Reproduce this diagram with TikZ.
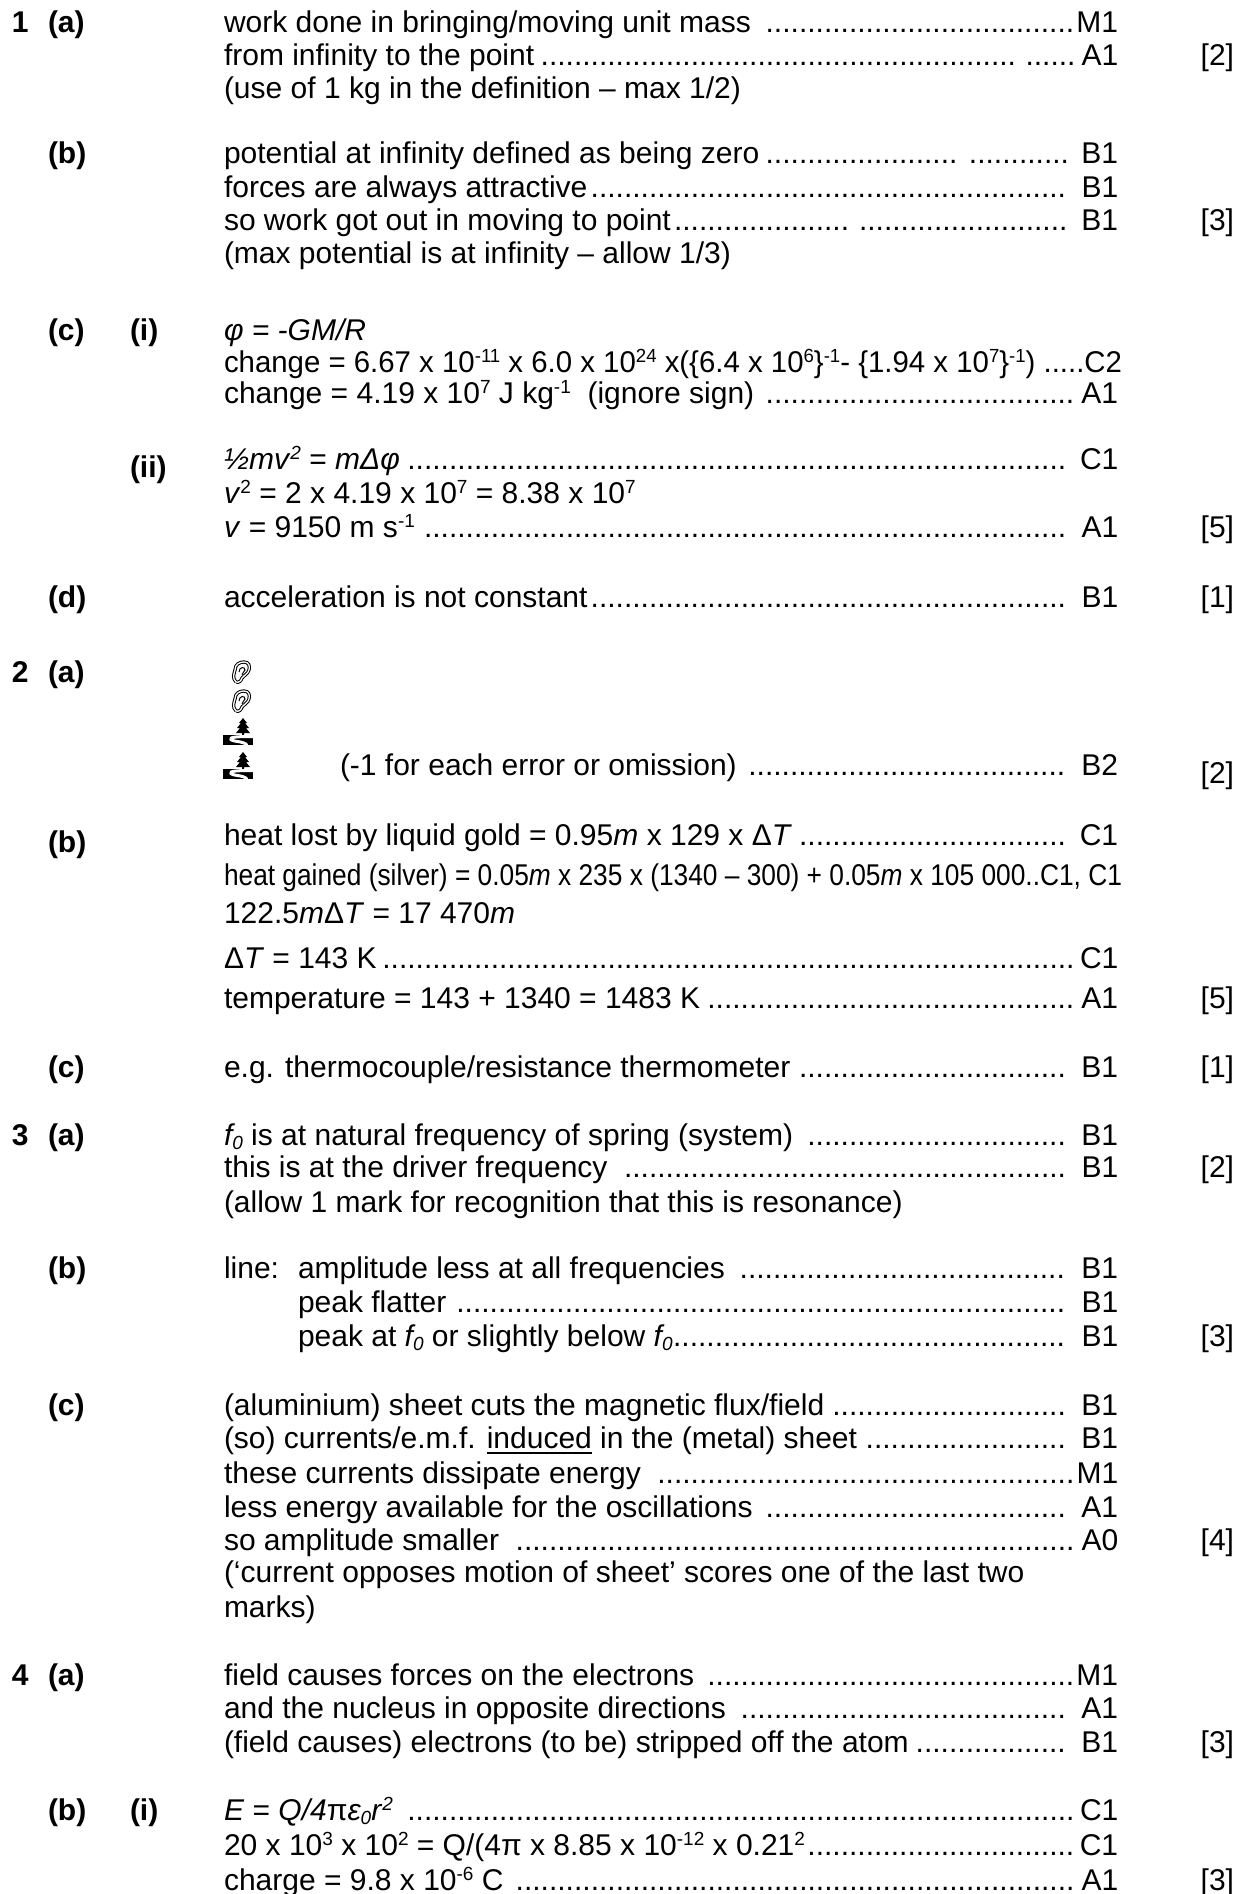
\documentclass[tikz,border=0pt]{standalone}
\usepackage{fontspec}
\setmainfont{Liberation Sans}
\usepackage{graphicx}
\newcommand\dotlead{\leaders\hbox{.}\hfill}
\newcommand\mline[3][894pt]{\makebox[#1][l]{#2\dotlead#3}}
\newcommand\ulin[1]{\setbox0\hbox{#1}\rlap{\rule[-6pt]{\wd0}{2.5pt}}\box0\relax}
\newcommand\sps[1]{\raisebox{10pt}{\fontsize{19}{19}\selectfont #1}}
\newcommand\sbs[1]{\raisebox{-4pt}{\fontsize{19}{19}\selectfont #1}}
\tikzset{
  tx/.style={anchor=base west,inner sep=0pt,outer sep=0pt,font=\fontsize{30}{36}\selectfont},
  lbl/.style={tx,font=\fontsize{30}{36}\selectfont\bfseries},
  tot/.style={anchor=base east,inner sep=0pt,outer sep=0pt,font=\fontsize{30}{36}\selectfont},
  earpic/.pic={
    \draw[line width=1pt,double,double distance=1.3pt]
      (4,20) .. controls (0,16) and (2,12) .. (3,8)
      .. controls (3,2) and (8,0) .. (12,0)
      .. controls (17,0) and (18,4) .. (17,8)
      .. controls (16,12) and (12,13) .. (10,16)
      .. controls (9,19) and (7,21) .. (4,20);
    \draw[line width=1pt] (7,10) .. controls (7,5) and (13,4) .. (13,8)
      .. controls (13,10) and (10,10) .. (10,13);
  },
  parkpic/.pic={
    \fill (20,0) -- (24,5) -- (22,5) -- (26,10) -- (23,10) -- (27,15) -- (21,15)
      -- (21,17) -- (19,17) -- (19,15) -- (13,15) -- (17,10) -- (14,10) -- (18,5) -- (16,5) -- cycle;
    \fill (0,17) rectangle (30,27);
    \draw[white,line width=3pt] (30,18.5) .. controls (14,18.5) and (6,19) .. (8,21.5)
      .. controls (10,24) and (22,23) .. (24,27.5);
  }
}
\begin{document}
\begin{tikzpicture}[x=1pt,y=-1pt]
\useasboundingbox (0,0) rectangle (1243,1894);
\fill[white] (0,0) rectangle (1243,1894);
% ---------- Question 1 ----------
\node[lbl] (q1) at (12,33) {1};
\node[lbl] (p1a) at (48,33) {(a)};
\node[tx] (l1a1) at (224,33) {\mline{work done in bringing/moving unit mass }{M1}};
\node[tx] (l1a2) at (224,66) {\mline{from infinity to the point}{\hspace{8pt}\makebox[56pt]{\dotlead}A1}};
\node[tx] (l1a3) at (224,99) {(use of 1 kg in the definition – max 1/2)};
\node[tot] (m1a) at (1234,66) {[2]};
\node[lbl] (p1b) at (48,164) {(b)};
\node[tx] (l1b1) at (224,164) {\mline{potential at infinity defined as being zero}{\hspace{8pt}\makebox[104pt]{\dotlead}\ B1}};
\node[tx] (l1b2) at (224,198) {\mline{forces are always attractive}{\ B1}};
\node[tx] (l1b3) at (224,231) {\mline{so work got out in moving to point}{\hspace{6pt}\makebox[214pt]{\dotlead}\ B1}};
\node[tx] (l1b4) at (224,264) {(max potential is at infinity – allow 1/3)};
\node[tot] (m1b) at (1234,231) {[3]};
\node[lbl] (p1c) at (48,340) {(c)};
\node[lbl] (s1ci) at (130,340) {(i)};
\node[tx] (l1c1) at (224,340) {\textit{φ = -GM/R}};
\node[tx] (l1c2) at (224,372) {\resizebox{898pt}{\height}{change = 6.67 x 10\sps{-11} x 6.0 x 10\sps{24} x(\{6.4 x 10\sps{6}\}\sps{-1}- \{1.94 x 10\sps{7}\}\sps{-1}) .....C2}};
\node[tx] (l1c3) at (224,403) {\mline{change = 4.19 x 10\sps{7} J kg\sps{-1}\ \ (ignore sign) }{A1}};
\node[lbl] (s1cii) at (130,477) {(ii)};
\node[tx] (l1c4) at (224,469) {\mline{\textit{½mv}\sps{\textit{2}} = \textit{mΔφ}}{\ C1}};
\node[tx] (l1c5) at (224,503) {\textit{v}\sps{2} = 2 x 4.19 x 10\sps{7} = 8.38 x 10\sps{7}};
\node[tx] (l1c6) at (224,537) {\mline{\textit{v} = 9150 m s\sps{-1} }{\ A1}};
\node[tot] (m1c) at (1234,537) {[5]};
\node[lbl] (p1d) at (48,607) {(d)};
\node[tx] (l1d1) at (224,607) {\mline{acceleration is not constant}{\ B1}};
\node[tot] (m1d) at (1234,607) {[1]};
% ---------- Question 2 ----------
\node[lbl] (q2) at (12,682) {2};
\node[lbl] (p2a) at (48,682) {(a)};
\pic at (232,662) {earpic};
\pic at (232,691) {earpic};
\pic at (223,718) {parkpic};
\pic at (223,752) {parkpic};
\node[tx] (l2a1) at (340,775) {\mline[778pt]{(-1 for each error or omission) }{\ B2}};
\node[tot] (m2a) at (1234,783) {[2]};
\node[lbl] (p2b) at (48,852) {(b)};
\node[tx] (l2b1) at (224,845) {\mline{heat lost by liquid gold = 0.95\textit{m} x 129 x Δ\textit{T}}{\ C1}};
\node[tx] (l2b2) at (224,885) {\resizebox{898pt}{\height}{heat gained (silver) = 0.05\textit{m} x 235 x (1340 – 300) + 0.05\textit{m} x 105 000..C1, C1}};
\node[tx] (l2b3) at (224,923) {122.5\textit{m}Δ\textit{T} = 17 470\textit{m}};
\node[tx] (l2b4) at (224,968) {\mline{Δ\textit{T} = 143 K}{C1}};
\node[tx] (l2b5) at (224,1008) {\mline{temperature = 143 + 1340 = 1483 K}{A1}};
\node[tot] (m2b) at (1234,1008) {[5]};
\node[lbl] (p2c) at (48,1077) {(c)};
\node[tx] (l2c1) at (224,1077) {\mline{e.g. thermocouple/resistance thermometer }{\ B1}};
\node[tot] (m2c) at (1234,1077) {[1]};
% ---------- Question 3 ----------
\node[lbl] (q3) at (12,1145) {3};
\node[lbl] (p3a) at (48,1145) {(a)};
\node[tx] (l3a1) at (224,1145) {\mline{\textit{f\sbs{0}} is at natural frequency of spring (system) }{\ B1}};
\node[tx] (l3a2) at (224,1177) {\mline{this is at the driver frequency }{\ B1}};
\node[tx] (l3a3) at (224,1212) {(allow 1 mark for recognition that this is resonance)};
\node[tot] (m3a) at (1234,1177) {[2]};
\node[lbl] (p3b) at (48,1278) {(b)};
\node[tx] (l3b0) at (224,1278) {line:};
\node[tx] (l3b1) at (298,1278) {\mline[820pt]{amplitude less at all frequencies }{\ B1}};
\node[tx] (l3b2) at (298,1312) {\mline[820pt]{peak flatter }{\ B1}};
\node[tx] (l3b3) at (298,1346) {\mline[820pt]{peak at \textit{f\sbs{0}} or slightly below \textit{f\sbs{0}}}{\ B1}};
\node[tot] (m3b) at (1234,1346) {[3]};
\node[lbl] (p3c) at (48,1415) {(c)};
\node[tx] (l3c1) at (224,1415) {\mline{(aluminium) sheet cuts the magnetic flux/field}{\ B1}};
\node[tx] (l3c2) at (224,1448) {\mline{(so) currents/e.m.f. \ulin{induced} in the (metal) sheet }{\ B1}};
\node[tx] (l3c3) at (224,1483) {\mline{these currents dissipate energy }{M1}};
\node[tx] (l3c4) at (224,1517) {\mline{less energy available for the oscillations }{\ A1}};
\node[tx] (l3c5) at (224,1550) {\mline{so amplitude smaller }{A0}};
\node[tx] (l3c6) at (224,1582) {(‘current opposes motion of sheet’ scores one of the last two};
\node[tx] (l3c7) at (224,1617) {marks)};
\node[tot] (m3c) at (1234,1550) {[4]};
% ---------- Question 4 ----------
\node[lbl] (q4) at (12,1685) {4};
\node[lbl] (p4a) at (48,1685) {(a)};
\node[tx] (l4a1) at (224,1685) {\mline{field causes forces on the electrons }{M1}};
\node[tx] (l4a2) at (224,1718) {\mline{and the nucleus in opposite directions }{\ A1}};
\node[tx] (l4a3) at (224,1752) {\mline{(field causes) electrons (to be) stripped off the atom}{\ B1}};
\node[tot] (m4a) at (1234,1752) {[3]};
\node[lbl] (p4b) at (48,1820) {(b)};
\node[lbl] (s4bi) at (130,1820) {(i)};
\node[tx] (l4b1) at (224,1820) {\mline{\textit{E} = \textit{Q/4}π\textit{ε\sbs{0}r}\sps{\textit{2}} }{C1}};
\node[tx] (l4b2) at (224,1855) {\mline{20 x 10\sps{3} x 10\sps{2} = Q/(4π x 8.85 x 10\sps{-12} x 0.21\sps{2}}{C1}};
\node[tx] (l4b3) at (224,1890) {\mline{charge = 9.8 x 10\sps{-6} C }{A1}};
\node[tot] (m4b) at (1234,1890) {[3]};
\end{tikzpicture}
\end{document}
